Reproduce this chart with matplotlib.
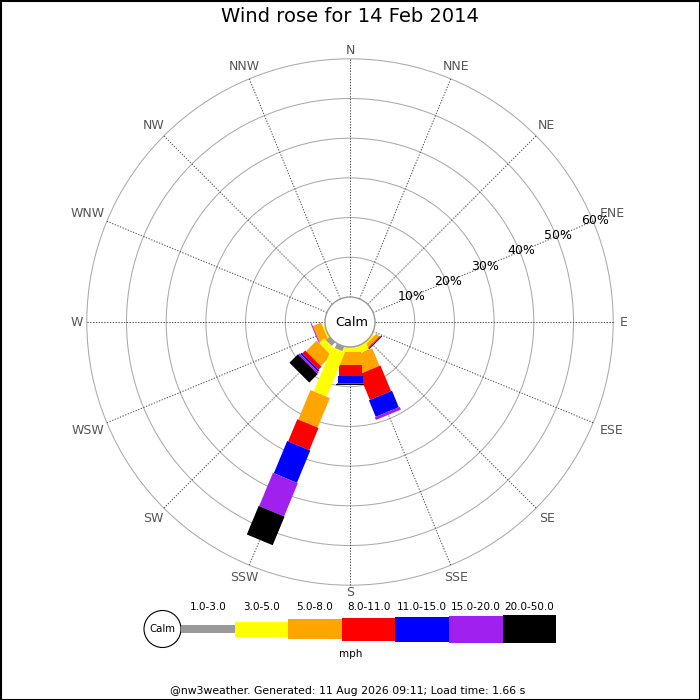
import matplotlib
matplotlib.use('Agg')
import matplotlib.pyplot as plt
from matplotlib.patches import Polygon, Circle, Rectangle
import numpy as np

# compass points, clockwise from north
directions = ['N', 'NNE', 'NE', 'ENE', 'E', 'ESE', 'SE', 'SSE',
              'S', 'SSW', 'SW', 'WSW', 'W', 'WNW', 'NW', 'NNW']

# speed ranges (mph) and colours
speed_bins = ['1.0-3.0', '3.0-5.0', '5.0-8.0', '8.0-11.0',
              '11.0-15.0', '15.0-20.0', '20.0-50.0']
bin_colors = ['#999999', '#ffff00', '#ffa500', '#ff0000',
              '#0000ff', '#a020f0', '#000000']

# percent of time per direction and speed range
freq_SE = [0.0, 0.5, 1.0, 0.25, 0.25, 0.0, 0.0]
freq_WSW = [0.0, 0.5, 2.25, 0.0, 0.0, 0.25, 0.0]
freq_SSE = [0.0, 2.0, 4.75, 7.0, 4.5, 0.75, 0.0]
freq_S = [0.0, 1.25, 3.25, 2.75, 1.75, 0.25, 0.25]
freq_SW = [1.25, 1.75, 3.75, 1.0, 0.5, 0.5, 3.0]
freq_SSW = [1.25, 12.1, 8.05, 6.05, 8.8, 9.05, 7.8]

ring_pcts = [10, 20, 30, 40, 50, 60]

title = 'Wind rose for 14 Feb 2014'
footer = '@nw3weather. Generated: 11 Aug 2026 09:11; Load time: 1.66 s'

# drawing order of the legs
legs = [('SE', freq_SE), ('WSW', freq_WSW), ('SSE', freq_SSE),
        ('S', freq_S), ('SW', freq_SW), ('SSW', freq_SSW)]

# geometry (pixels)
calm_r = 25.0
px_per_pct = 3.97
leg_widths = [8, 14, 21, 23, 25, 27, 28]
leg_key_heights = [8, 15, 20, 23, 25, 27, 28]


def rad(pct):
    return calm_r + pct * px_per_pct


def unit(name):
    a = np.deg2rad(directions.index(name) * 22.5)
    return np.array([np.sin(a), np.cos(a)]), np.array([np.cos(a), -np.sin(a)])


fig = plt.figure(figsize=(7, 7), dpi=100)
ax = fig.add_axes([0, 0, 1, 1])
ax.set_xlim(-350, 350)
ax.set_ylim(-378, 322)
ax.set_aspect('equal')
ax.axis('off')

# rings
for p in ring_pcts:
    ax.add_patch(Circle((0, 0), rad(p), fill=False, ec='#aaaaaa', lw=0.75, zorder=1))

# direction lines and labels
outer = rad(ring_pcts[-1])
for i, d in enumerate(directions):
    u, _ = unit(d)
    ax.plot([u[0] * calm_r, u[0] * outer], [u[1] * calm_r, u[1] * outer],
            color='#444444', lw=0.7, ls=(0, (1.3, 1.6)), zorder=2)
    w = 9.2 * len(d)
    rr = 266 + abs(u[0]) * (w / 2 + 3) + abs(u[1]) * 5
    ax.text(u[0] * rr, u[1] * rr, d, ha='center', va='center',
            fontsize=9, color='#555555', zorder=5)

# legs
for name, vals in legs:
    u, p = unit(name)
    r0 = calm_r
    for v, w, c in zip(vals, leg_widths, bin_colors):
        if v <= 0:
            continue
        r1 = r0 + v * px_per_pct
        h = w / 2
        pts = [u * r0 + p * h, u * r1 + p * h, u * r1 - p * h, u * r0 - p * h]
        ax.add_patch(Polygon(pts, closed=True, fc=c, ec='none', zorder=3))
        r0 = r1

# ring labels along ENE
u, _ = unit('ENE')
for p in ring_pcts:
    r = rad(p) + 2
    ax.text(u[0] * r, u[1] * r, '%d%%' % p, ha='center', va='center',
            fontsize=9, color='black', zorder=6)

# calm circle
ax.add_patch(Circle((0, 0), calm_r, fc='white', ec='#999999', lw=1, zorder=4))
ax.text(2, 0, 'Calm', ha='center', va='center', fontsize=9.3, zorder=6)

# title
ax.text(0, 305, title, ha='center', va='center', fontsize=14)

# legend
ky = 322 - 629
kx0 = 181 - 350
kw = 53.6
ax.add_patch(Circle((kx0 - 18.5, ky), 18.5, fc='white', ec='black', lw=0.8))
ax.text(kx0 - 18.5, ky, 'Calm', ha='center', va='center', fontsize=7.3)
for i, (lab, c, hh) in enumerate(zip(speed_bins, bin_colors, leg_key_heights)):
    x = kx0 + i * kw
    ax.add_patch(Rectangle((x, ky - hh / 2), kw, hh, fc=c, ec='none'))
    ax.text(x + kw / 2, 322 - 607, lab, ha='center', va='center', fontsize=7.5)
ax.text(1, 322 - 654, 'mph', ha='center', va='center', fontsize=7.5)

# footer
ax.text(-2, 322 - 691, footer, ha='center', va='center', fontsize=7.8)

# frame
ax.add_patch(Rectangle((-349.5, -377.5), 699, 699, fill=False, ec='black', lw=1.5))

fig.savefig('out.png', dpi=100)
